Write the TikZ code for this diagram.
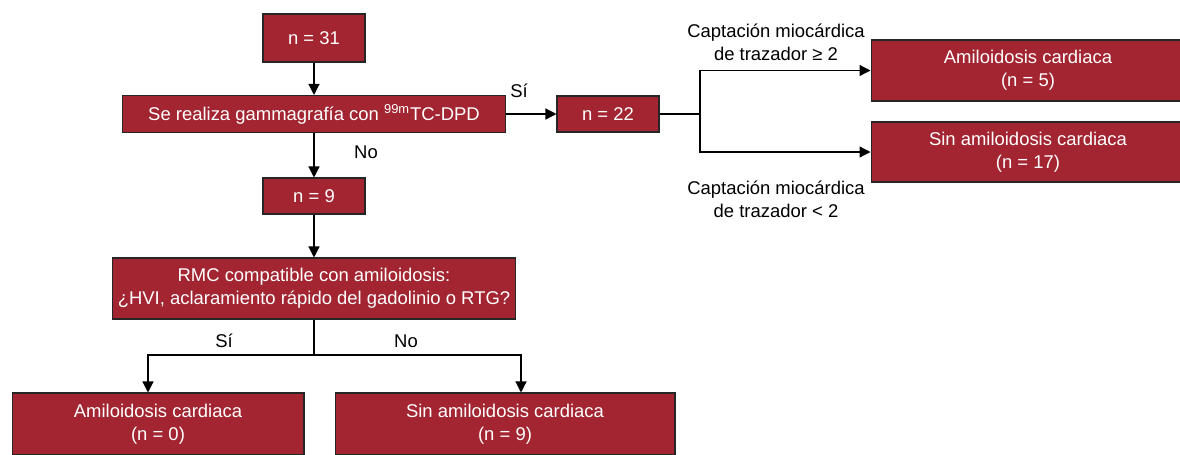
\documentclass[tikz,border=0pt]{standalone}
\usepackage{fontspec}
\setmainfont{Liberation Sans}
\usepackage{tikz}
\usetikzlibrary{arrows.meta}
\definecolor{boxred}{RGB}{162,37,49}
\tikzset{
  box/.style={draw=black!85, line width=0.6pt, fill=boxred, text=white, align=center,
    inner sep=0pt, font=\fontsize{10.5}{13}\selectfont},
  lbl/.style={align=center, font=\fontsize{10.5}{13}\selectfont},
  arr/.style={line width=0.7pt, -{Triangle[length=0.22cm,width=0.22cm]}},
  ln/.style={line width=0.7pt}
}

\begin{document}
\begin{tikzpicture}[x=0.02cm,y=-0.02cm]
        \useasboundingbox (0,0) rectangle (1180,454);
        \clip (0,0) rectangle (1180,454);
        % left column
        \node [box, minimum width=2.04cm, minimum height=0.96cm] (n31) at (314,38) {n = 31};
        \node [box, minimum width=7.68cm, minimum height=0.74cm] (gamma) at (314,114) {Se realiza gammagrafía con \textsuperscript{99m}TC-DPD};
        \node [box, minimum width=2.04cm, minimum height=0.72cm] (n9) at (314,196) {n = 9};
        \node [box, minimum width=8.06cm, minimum height=1.22cm] (rmc) at (314,288.5) {RMC compatible con amiloidosis:\\¿HVI, aclaramiento rápido del gadolinio o RTG?};
        \node [box, minimum width=5.84cm, minimum height=1.24cm] (amy0) at (158,424) {Amiloidosis cardiaca\\(n = 0)};
        \node [box, minimum width=6.8cm, minimum height=1.24cm] (sin9) at (505,424) {Sin amiloidosis cardiaca\\(n = 9)};
        % right branch
        \node [box, minimum width=2.04cm, minimum height=0.72cm] (n22) at (608,114) {n = 22};
        \node [box, minimum width=6.28cm, minimum height=1.22cm] (amy5) at (1028,70.5) {Amiloidosis cardiaca\\(n = 5)};
        \node [box, minimum width=6.28cm, minimum height=1.2cm] (sin17) at (1028,152) {Sin amiloidosis cardiaca\\(n = 17)};
        \coordinate (split) at (700,114);
        \coordinate (fork) at (314,355);

        \draw [arr] (n31) -- (gamma);
        \draw [arr] (gamma) -- (n9);
        \draw [arr] (n9) -- (rmc);
        \draw [arr] (gamma) -- (n22);
        \draw [ln] (n22) -- (split);
        \draw [arr] (split) |- (amy5.west);
        \draw [arr] (split) |- (sin17.west);
        \draw [ln] (rmc) -- (fork);
        \draw [arr] (fork) -| (amy0.north -| 148,0);
        \draw [arr] (fork) -| (sin9.north -| 521,0);

        \node [lbl, anchor=base] (si1) at (519,97) {Sí};
        \node [lbl, anchor=base] (no1) at (366,158) {No};
        \node [lbl, anchor=base] (si2) at (224,347) {Sí};
        \node [lbl, anchor=base] (no2) at (406,347) {No};
        \node [lbl] (up) at (776,42) {Captación miocárdica\\de trazador ≥ 2};
        \node [lbl] (down) at (776,199) {Captación miocárdica\\de trazador < 2};
      \end{tikzpicture}
\end{document}
